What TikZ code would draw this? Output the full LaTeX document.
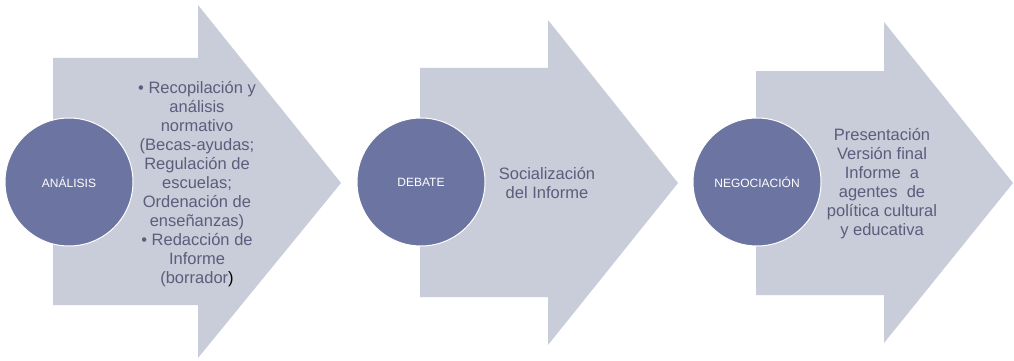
\documentclass[tikz,border=0pt]{standalone}
\usepackage{fontspec}
\setmainfont{Liberation Sans}
\usetikzlibrary{positioning,calc}
\definecolor{arrowgray}{RGB}{201,205,217}
\definecolor{stepblue}{RGB}{108,117,161}
\definecolor{textblue}{RGB}{88,94,124}
% chevron: left, body top, body bottom, head base, head top, head bottom, tip
\newcommand{\chevron}[7]{%
  \fill[arrowgray] (#1,#2) -- (#4,#2) -- (#4,#5) -- (#7,183) -- (#4,#6)
    -- (#4,#3) -- (#1,#3) -- cycle;}

\begin{document}
\begin{tikzpicture}
[x=1pt,y=-1pt,
    phase/.style={shape=circle,fill=stepblue,draw=white,line width=1pt,
      minimum size=128pt,inner sep=0pt,text=white,font=\fontsize{12}{14}\selectfont},
    content/.style={align=center,text=textblue,inner sep=0pt,
      font=\fontsize{16.5}{19}\selectfont}]
\useasboundingbox[fill=white] (0,0) rectangle (1014,361);
%%%%%%%%%%
%% arrows
\chevron{53}{58}{305}{198}{5}{358}{341}
\chevron{420}{68}{297}{548}{20}{345}{678}
\chevron{756}{71}{295}{884}{22}{343}{1013}
%%
\node[phase] (ana) at (69,182) {ANÁLISIS};
\node[phase] (deb) at (421,182) {DEBATE};
\node[phase] (neg) at (757,182) {NEGOCIACIÓN};
%%
\node[content] (anatxt) at (197,184) {• Recopilación y\\análisis\\normativo\\(Becas-ayudas;\\Regulación de\\escuelas;\\Ordenación de\\enseñanzas)\\• Redacción de\\Informe\\(borrador\textcolor{black}{)}};
\node[content] (debtxt) at (547,183) {Socialización\\del Informe};
\node[content] (negtxt) at (882,184) {Presentación\\Versión final\\Informe\ \ a\\agentes\ \ de\\política cultural\\y educativa};
\end{tikzpicture}
\end{document}
